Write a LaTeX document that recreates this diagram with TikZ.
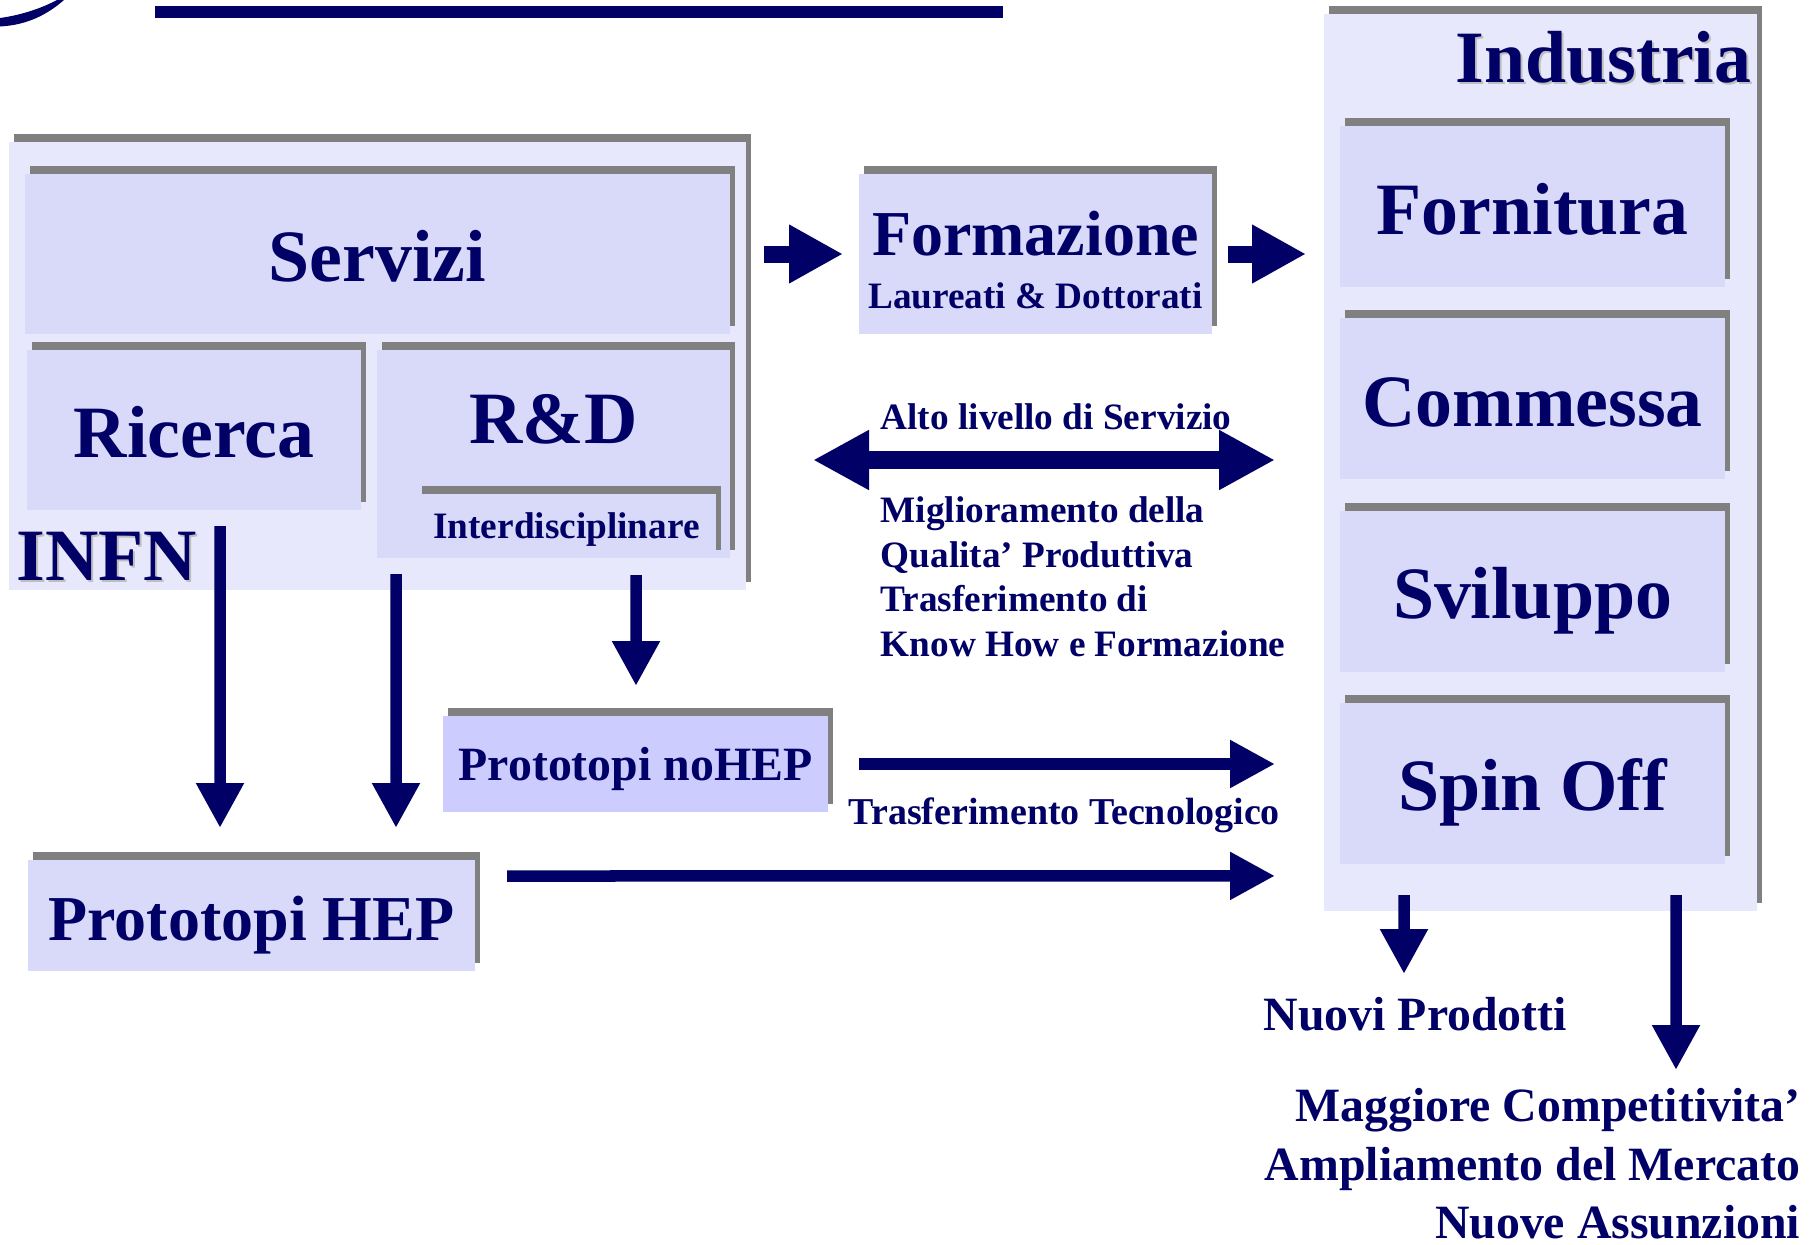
\documentclass[tikz,border=0pt]{standalone}
\usepackage{fontspec}
\setmainfont{Liberation Serif}
\usetikzlibrary{arrows.meta,calc,shadows}
\definecolor{inblue}{RGB}{0,0,102}
\definecolor{inpale}{RGB}{232,232,252}
\definecolor{incell}{RGB}{217,217,250}
\definecolor{inlilac}{RGB}{204,204,255}
\definecolor{inshadow}{RGB}{128,128,128}
\definecolor{inghost}{RGB}{190,190,190}

\newcommand{\bigtxt}{\fontsize{21}{25}\selectfont}
\newcommand{\medtxt}{\fontsize{18.2}{21}\selectfont}
\newcommand{\midtxt}{\fontsize{13.6}{16.6}\selectfont}
\newcommand{\smalltxt}{\fontsize{10.6}{12.7}\selectfont}

\tikzset{
  panel/.style={fill=inpale, inner sep=0pt, outer sep=0pt,
    general shadow={fill=inshadow, shadow xshift=0.05cm, shadow yshift=0.08cm}},
  cell/.style={panel, fill=incell, text=inblue, font=\bigtxt\bfseries,
    text height=0.55cm, text depth=0cm},
  title/.style={text=inblue, inner sep=0pt, font=\bigtxt\bfseries},
  ghost/.style={title, text=inghost},
  lbl/.style={text=inblue, inner sep=0pt, font=\smalltxt\bfseries},
  fatarrow/.style={draw=inblue, line width=0.17cm, -{Triangle[length=0.54cm,width=0.55cm]}},
  bothway/.style={draw=inblue, line width=0.18cm,
    {Triangle[length=0.56cm,width=0.56cm]}-{Triangle[length=0.56cm,width=0.56cm]}},
  flowarrow/.style={draw=inblue, line width=0.115cm, -{Triangle[length=0.45cm,width=0.45cm]}}
}

\begin{document}
\begin{tikzpicture}
  \useasboundingbox (0,0) rectangle (18.16,-12.44);

  %% --- corner logo and title rule ---
  \fill[inblue] (0,-0.265) .. controls (0.28,-0.25) and (0.48,-0.14) .. (0.64,0) -- (0.57,0) .. controls (0.42,-0.08) and (0.22,-0.15) .. (0,-0.18) -- cycle;
  \fill[inblue] (1.55,-0.06) rectangle (10.03,-0.177);

  %% --- INFN ---
  \node[panel, minimum width=7.37cm, minimum height=4.48cm] (infnbox) at (3.775,-3.66) {};
  \node[cell, minimum width=7.05cm, minimum height=1.60cm] (servizi) at (3.775,-2.54) {Servizi};
  \node[cell, minimum width=3.34cm, minimum height=1.60cm] (ricerca) at (1.94,-4.30) {Ricerca};
  \node[cell, minimum width=3.53cm, minimum height=2.08cm, text depth=0.77cm] (rd) at (5.535,-4.54) {R\&D};
  \node[cell, font=\smalltxt\bfseries, text height=0.24cm, minimum width=2.99cm, minimum height=0.64cm] (interd) at (5.665,-5.26) {Interdisciplinare};
  \node[ghost, anchor=base west] (infnshade) at (0.18,-5.82) {INFN};
  \node[title, anchor=base west] (infn) at (0.16,-5.80) {INFN};

  %% --- FORMAZIONE ---
  \node[cell, text height=, text depth=, align=center, font=\smalltxt\bfseries, minimum width=3.53cm, minimum height=1.60cm] (formazione) at (10.355,-2.54)
    {{\medtxt\rule{0pt}{0.56cm}Formazione}\\[2.3pt]Laureati \& Dottorati};

  %% --- INDUSTRIA ---
  \node[panel, minimum width=4.33cm, minimum height=8.97cm] (industria) at (15.405,-4.625) {};
  \node[ghost, anchor=base east] (industriashade) at (17.54,-0.84) {Industria};
  \node[title, anchor=base east] (industrialbl) at (17.52,-0.82) {Industria};
  \node[cell, minimum width=3.85cm, minimum height=1.61cm] (fornitura) at (15.325,-2.065) {Fornitura};
  \node[cell, minimum width=3.85cm, minimum height=1.61cm] (commessa)  at (15.325,-3.988) {Commessa};
  \node[cell, minimum width=3.85cm, minimum height=1.61cm] (sviluppo)  at (15.325,-5.911) {Sviluppo};
  \node[cell, minimum width=3.85cm, minimum height=1.61cm] (spinoff)   at (15.325,-7.834) {Spin Off};

  %% --- PROTOTIPI ---
  \node[cell, fill=inlilac, font=\midtxt\bfseries, text height=0.32cm, minimum width=3.85cm, minimum height=0.96cm] (nohep) at (6.355,-7.64) {Prototopi noHEP};
  \node[cell, font=\medtxt\bfseries, text height=0.49cm, minimum width=4.47cm, minimum height=1.11cm] (hep) at (2.515,-9.155) {Prototopi HEP};

  %% --- LABELS ---
  \node[lbl, anchor=base west] (altolbl) at (8.80,-4.29) {Alto livello di Servizio};
  \node[lbl, anchor=north west, align=left] (migliolbl) at (8.80,-4.96)
    {Miglioramento della\\Qualita’ Produttiva\\Trasferimento di\\Know How e Formazione};
  \node[lbl, font=\fontsize{10.8}{13}\selectfont\bfseries, anchor=base west] (trasflbl) at (8.48,-8.24) {Trasferimento Tecnologico};
  \node[lbl, font=\midtxt\bfseries, anchor=base west] (nuovi) at (12.63,-10.30) {Nuovi Prodotti};
  \node[lbl, font=\midtxt\bfseries, anchor=north east, align=right] (esiti) at (18.01,-10.88)
    {Maggiore Competitivita’\\Ampliamento del Mercato\\Nuove Assunzioni};

  %% --- ARROWS ---
  \coordinate (scambioL) at (8.13,-4.60);
  \coordinate (scambioR) at (12.75,-4.60);
  \coordinate (prodtip) at (14.04,-9.74);
  \coordinate (esititip) at (16.76,-10.70);

  \draw[fatarrow] ([xshift=0.34cm]servizi.east) -- ([xshift=-0.16cm]formazione.west);
  \draw[fatarrow] ([xshift=0.16cm]formazione.east) -- ($(formazione.east -| industria.west)+(-0.18,0)$);
  \draw[bothway] (scambioL) -- (scambioR);

  \draw[flowarrow] ([xshift=0.26cm,yshift=-0.16cm]ricerca.south) -- ([xshift=-0.315cm,yshift=0.32cm]hep.north);
  \draw[flowarrow] ([xshift=0.19cm,yshift=-0.16cm]rd.south west) -- ([xshift=-0.79cm,yshift=0.32cm]hep.north east);
  \draw[flowarrow] ([xshift=0.695cm,yshift=-0.17cm]interd.south) -- ([xshift=0.005cm,yshift=0.30cm]nohep.north);

  \draw[flowarrow] ([xshift=0.31cm]nohep.east) -- ($(nohep.east -| spinoff.west)+(-0.65,0)$);
  \draw[flowarrow] ($(hep.north east)+(0.32,-0.16)$) -- ($(spinoff.south west)+(-0.65,-0.12)$);

  \draw[flowarrow] ($(industria.south west)+(0.80,0.16)$) -- (prodtip);
  \draw[flowarrow] ($(industria.south west)+(3.52,0.16)$) -- (esititip);
\end{tikzpicture}
\end{document}
